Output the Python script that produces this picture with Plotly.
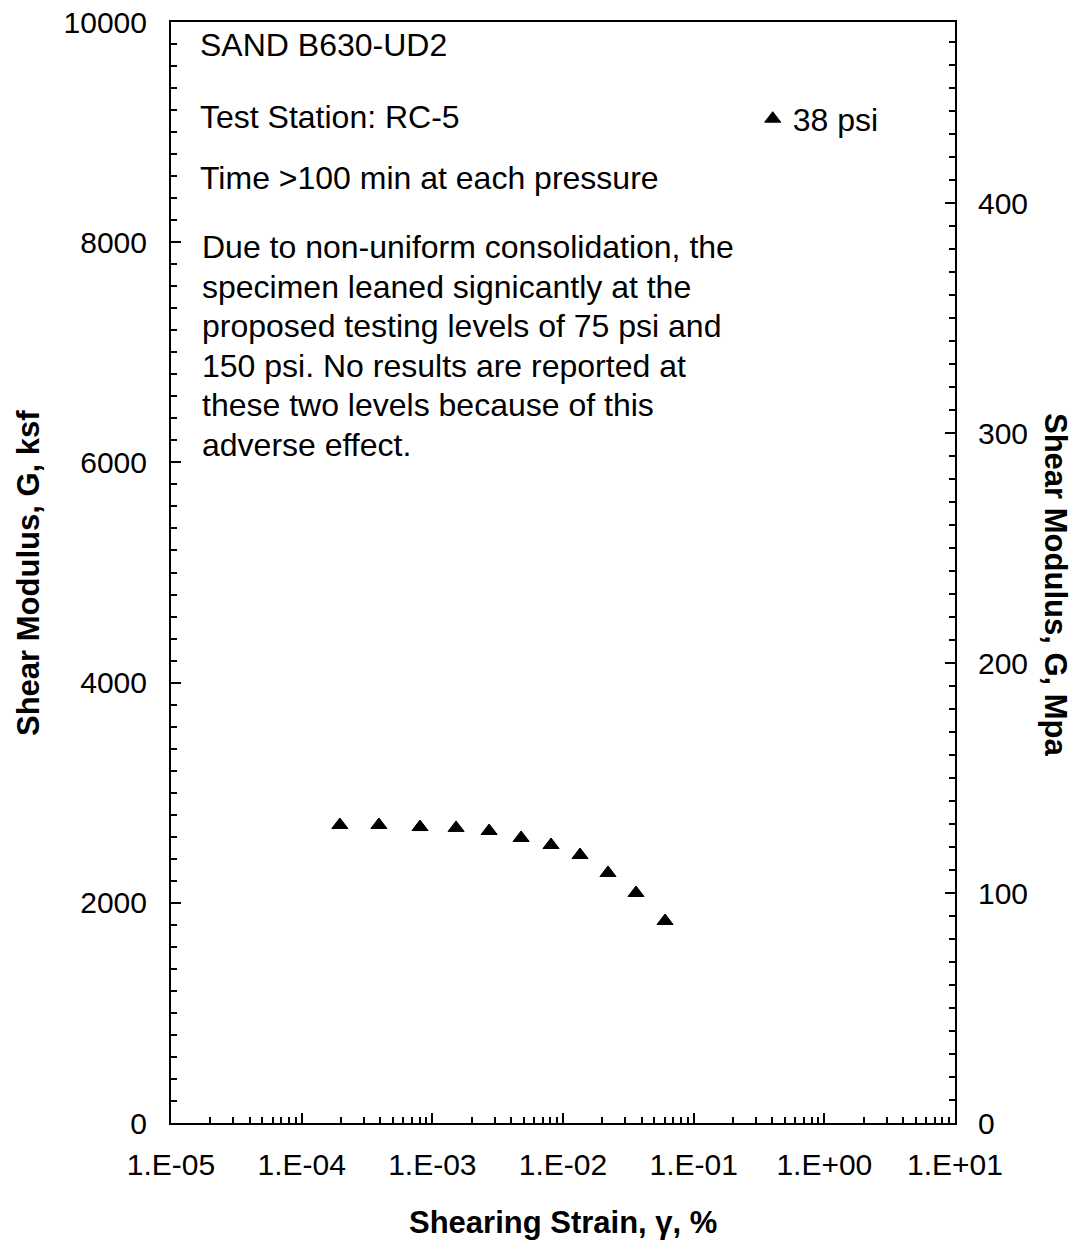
import plotly.graph_objects as go

strain = [1.96e-4, 3.9e-4, 8.05e-4, 1.52e-3, 2.72e-3, 4.78e-3, 8.1e-3, 1.35e-2, 2.21e-2, 3.62e-2, 6.04e-2]
G_ksf = [2707, 2707, 2688, 2680, 2652, 2589, 2525, 2434, 2271, 2089, 1835]
series_name = "38 psi"
x_tickvals = [1e-5, 1e-4, 1e-3, 1e-2, 1e-1, 1e0, 1e1]
x_ticktext = ["1.E-05", "1.E-04", "1.E-03", "1.E-02", "1.E-01", "1.E+00", "1.E+01"]
y_tickvals = [0, 2000, 4000, 6000, 8000, 10000]
y_ticktext = ["0", "2000", "4000", "6000", "8000", "10000"]
y2_tickvals = [0, 100, 200, 300, 400]
ksf_to_mpa = 0.04788026

FONT = "Liberation Sans, Arial, sans-serif"
TXT = 32

fig = go.Figure()
fig.add_trace(go.Scatter(
    x=strain, y=G_ksf, mode="markers", name=series_name,
    marker=dict(symbol="triangle-up", size=14, color="black",
                line=dict(color="black", width=1)),
))
fig.add_trace(go.Scatter(x=[1e-5], y=[0], yaxis="y2", mode="markers",
                         marker=dict(opacity=0), showlegend=False, hoverinfo="skip"))

fig.update_layout(
    width=1079, height=1242,
    margin=dict(l=171, r=124, t=22, b=119, autoexpand=False),
    paper_bgcolor="white", plot_bgcolor="white",
    font=dict(family=FONT, color="black", size=TXT),
    showlegend=True,
    legend=dict(x=0.742, y=0.912, xanchor="left", yanchor="middle",
                bgcolor="rgba(0,0,0,0)", font=dict(size=TXT),
                itemwidth=30, tracegroupgap=0),
    xaxis=dict(
        type="log", range=[-5, 1], automargin=False,
        tickvals=x_tickvals, ticktext=x_ticktext,
        ticks="inside", ticklen=10, tickwidth=2, tickcolor="black",
        minor=dict(ticks="inside", ticklen=6, tickwidth=1.5, tickcolor="black", dtick="D1", showgrid=False),
        showline=True, linewidth=2, linecolor="black", mirror=True,
        showgrid=False, zeroline=False,
        tickfont=dict(size=30), ticklabelstandoff=14,
    ),
    yaxis=dict(
        range=[0, 10000], tickvals=y_tickvals, ticktext=y_ticktext, automargin=False,
        ticks="inside", ticklen=10, tickwidth=2, tickcolor="black",
        minor=dict(ticks="inside", ticklen=6, tickwidth=1.5, tickcolor="black", dtick=200, showgrid=False),
        showline=True, linewidth=2, linecolor="black",
        showgrid=False, zeroline=False,
        tickfont=dict(size=30), ticklabelstandoff=16,
    ),
    yaxis2=dict(
        overlaying="y", side="right", automargin=False,
        range=[0, 10000 * ksf_to_mpa], tickvals=y2_tickvals,
        ticks="inside", ticklen=10, tickwidth=2, tickcolor="black",
        minor=dict(ticks="inside", ticklen=6, tickwidth=1.5, tickcolor="black", dtick=10, showgrid=False),
        showline=True, linewidth=2, linecolor="black",
        showgrid=False, zeroline=False,
        tickfont=dict(size=30), ticklabelstandoff=15,
    ),
)

def px2paper(px, py):
    return (px - 171) / 784, (1123 - py) / 1101

def add_text(text, px, py, size=TXT, angle=0, xanchor="left"):
    xp, yp = px2paper(px, py)
    fig.add_annotation(text=text, x=xp, y=yp, xref="paper", yref="paper",
                       xanchor=xanchor, yanchor="middle", showarrow=False,
                       textangle=angle,
                       font=dict(size=size, family=FONT, color="black"), align="left")

add_text("SAND B630-UD2", 198, 45)
add_text("Test Station: RC-5", 198, 117)
add_text("Time >100 min at each pressure", 198, 178)
para = [
    "Due to non-uniform consolidation, the",
    "specimen leaned signicantly at the",
    "proposed testing levels of 75 psi and",
    "150 psi. No results are reported at",
    "these two levels because of this",
    "adverse effect.",
]
for i, line in enumerate(para):
    add_text(line, 200, 247 + 39.6 * i)

# axis titles
add_text("<b>Shearing Strain, γ, %</b>", 563, 1222, size=31, xanchor="center")
add_text("<b>Shear Modulus, G, ksf</b>", 28, 573, size=31, angle=-90, xanchor="center")
add_text("<b>Shear Modulus, G, Mpa</b>", 1056, 585, size=31, angle=90, xanchor="center")

fig.write_html("out.html")
